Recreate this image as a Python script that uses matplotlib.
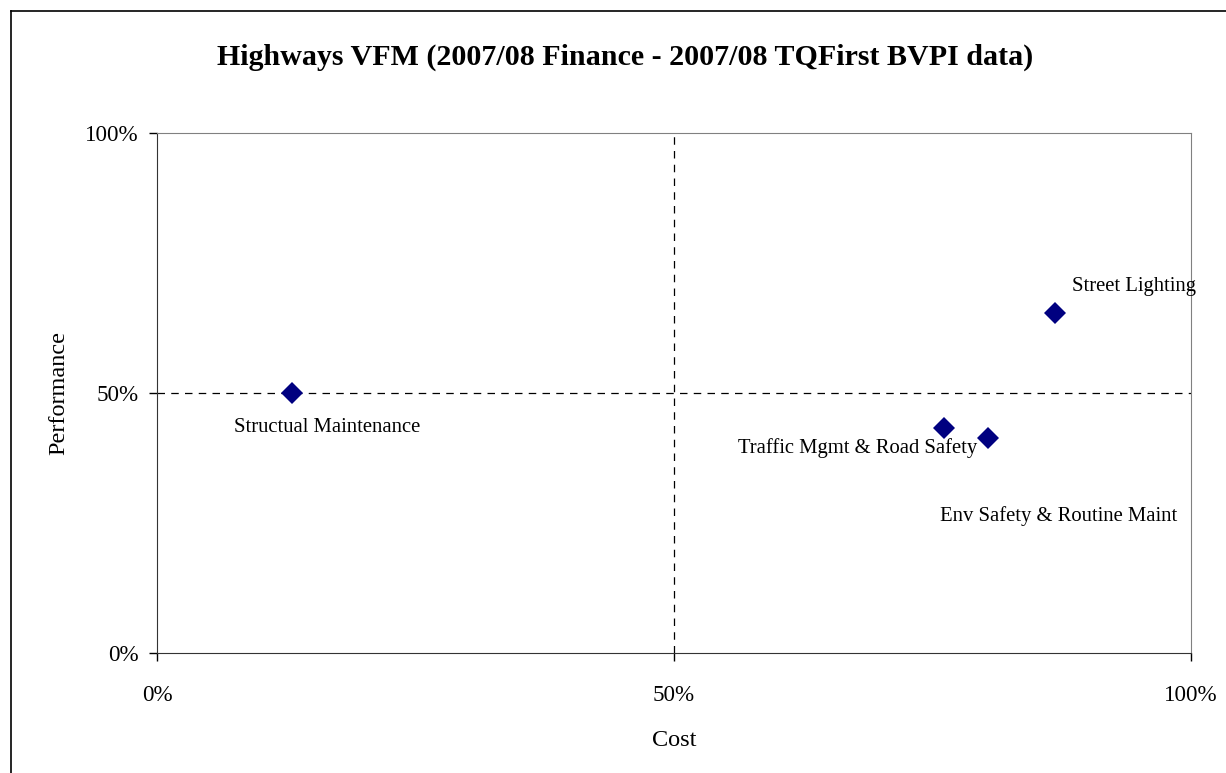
import matplotlib.pyplot as plt
from matplotlib.lines import Line2D
from matplotlib.ticker import PercentFormatter

# service areas, cost vs performance (fractions)
services = ["Structual Maintenance", "Traffic Mgmt & Road Safety",
            "Env Safety & Routine Maint", "Street Lighting"]
cost = [0.131, 0.761, 0.804, 0.869]
performance = [0.500, 0.433, 0.413, 0.654]
# label offsets in pixels (dx, dy) relative to each point
label_offsets = [(35, -35), (-86, -20), (70, -78), (79, 26)]

ticks = [0.0, 0.5, 1.0]

plt.rcParams["font.family"] = ["Liberation Serif", "DejaVu Serif"]

fig = plt.figure(figsize=(12.26, 7.73), dpi=100)
ax = fig.add_axes([0.1281, 0.1553, 0.8433, 0.6726])

ax.axhline(0.5, color="black", lw=0.9, ls=(0, (6, 5)), zorder=1)
ax.axvline(0.5, color="black", lw=0.9, ls=(0, (6, 5)), zorder=1)

ax.plot(cost, performance, ls="none", marker="D", markersize=11.5,
        color="#000080", markeredgewidth=0, zorder=3, clip_on=False)

for name, x, y, (dx, dy) in zip(services, cost, performance, label_offsets):
    ax.annotate(name, (x, y), xytext=(dx, dy), textcoords="offset pixels",
                ha="center", va="center", fontsize=14.9)

ax.set_xlim(0, 1)
ax.set_ylim(0, 1)
ax.set_xticks(ticks)
ax.set_yticks(ticks)
ax.xaxis.set_major_formatter(PercentFormatter(1.0, decimals=0))
ax.yaxis.set_major_formatter(PercentFormatter(1.0, decimals=0))
ax.tick_params(direction="out", length=6, width=1, labelsize=16.6)
ax.tick_params(axis="y", pad=7.5)
ax.tick_params(axis="x", pad=17)

for side in ("top", "right"):
    ax.spines[side].set_color("#808080")
for side in ("left", "bottom"):
    ax.spines[side].set_color("#333333")

ax.set_xlabel("Cost", fontsize=17.5, labelpad=17)
ax.set_ylabel("Performance", fontsize=17.5, labelpad=11)

fig.text(625 / 1226, 1 - 57 / 773,
         "Highways VFM (2007/08 Finance - 2007/08 TQFirst BVPI data)",
         ha="center", va="center", fontsize=21.6, fontweight="bold")

# outer chart frame (only left and top edges visible)
fx, fy = 11 / 1226, 1 - 11 / 773
fig.add_artist(Line2D([fx, fx], [0, fy], color="black", lw=1.2, transform=fig.transFigure))
fig.add_artist(Line2D([fx, 1], [fy, fy], color="black", lw=1.2, transform=fig.transFigure))

fig.savefig("out.png", dpi=100)
